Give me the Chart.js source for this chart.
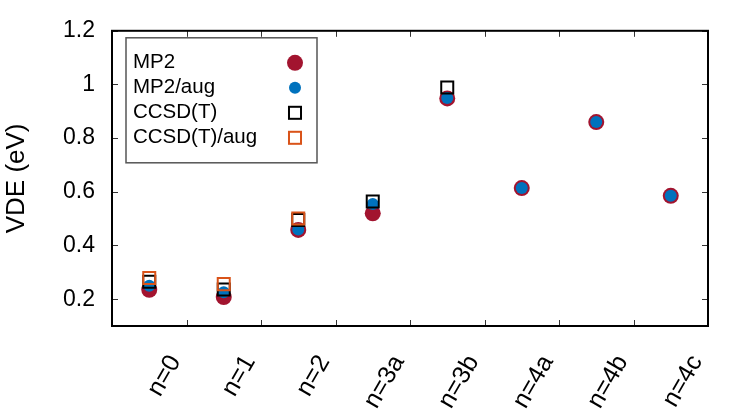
<!DOCTYPE html>
<html>
<head>
<meta charset="utf-8">
<script src="https://cdn.jsdelivr.net/npm/chart.js@4.4.0/dist/chart.umd.min.js"></script>
<style>
  html, body { margin: 0; padding: 0; background: #fff; }
</style>
</head>
<body>
<canvas id="vdeChart" width="750" height="419"></canvas>
<script>
const categories = ['n=0', 'n=1', 'n=2', 'n=3a', 'n=3b', 'n=4a', 'n=4b', 'n=4c'];
const mp2 = [0.235, 0.208, 0.458, 0.52, 0.948, 0.614, 0.86, 0.585];
const mp2Aug = [0.25, 0.226, 0.46, 0.555, 0.95, 0.614, 0.86, 0.585];
const ccsdt = [0.265, 0.236, 0.495, 0.564, 0.989, null, null, null];
const ccsdtAug = [0.279, 0.256, 0.501, null, null, null, null, null];
const yTicks = [0.2, 0.4, 0.6, 0.8, 1.0, 1.2];

const FONT = "'Liberation Sans', Arial, Helvetica, sans-serif";

const series = [
    { label: 'MP2', data: mp2, style: 'circle', radius: 8, color: '#A2142F', fill: true, order: 4 },
    { label: 'MP2/aug', data: mp2Aug, style: 'circle', radius: 6, color: '#0072BD', fill: true, order: 3 },
    { label: 'CCSD(T)', data: ccsdt, style: 'rect', radius: 8.5, color: '#000000', fill: false, order: 2 },
    { label: 'CCSD(T)/aug', data: ccsdtAug, style: 'rect', radius: 8.5, color: '#D95319', fill: false, order: 1 }
];

function drawMarker(ctx, s, x, y) {
    ctx.save();
    if (s.style === 'circle') {
        ctx.beginPath();
        ctx.arc(x, y, s.radius, 0, Math.PI * 2);
        ctx.fillStyle = s.color;
        ctx.fill();
    } else {
        const h = s.radius * Math.SQRT1_2;
        ctx.lineWidth = 2;
        ctx.strokeStyle = s.color;
        ctx.strokeRect(x - h, y - h, 2 * h, 2 * h);
    }
    ctx.restore();
}

// frame, inward ticks on all four sides and the boxed key
const framePlugin = {
    id: 'gnuplotFrame',
    afterDatasetsDraw(chart) {
        const { ctx, chartArea: a, scales } = chart;
        ctx.save();
        ctx.strokeStyle = '#333';
        ctx.lineWidth = 1;
        const tl = 6;
        yTicks.forEach(v => {
            const y = Math.round(scales.y.getPixelForValue(v)) + 0.5;
            ctx.beginPath();
            ctx.moveTo(a.left, y); ctx.lineTo(a.left + tl, y);
            ctx.moveTo(a.right, y); ctx.lineTo(a.right - tl, y);
            ctx.stroke();
        });
        for (let i = 1; i < categories.length; i++) {
            const x = Math.round((scales.x.getPixelForValue(i - 1) + scales.x.getPixelForValue(i)) / 2) + 0.5;
            ctx.beginPath();
            ctx.moveTo(x, a.bottom); ctx.lineTo(x, a.bottom - tl);
            ctx.moveTo(x, a.top); ctx.lineTo(x, a.top + tl);
            ctx.stroke();
        }
        ctx.strokeStyle = '#000';
        ctx.lineWidth = 2;
        ctx.strokeRect(a.left, a.top, a.right - a.left, a.bottom - a.top);

        // key
        const kx = a.left + 14, ky = a.top + 7, kw = 191, kh = 125;
        ctx.fillStyle = '#fff';
        ctx.fillRect(kx, ky, kw, kh);
        ctx.strokeStyle = '#555';
        ctx.lineWidth = 1.5;
        ctx.strokeRect(kx, ky, kw, kh);
        ctx.font = '20.5px ' + FONT;
        ctx.fillStyle = '#000';
        ctx.textBaseline = 'middle';
        series.forEach((s, i) => {
            const yy = ky + 25 + i * 25;
            ctx.fillText(s.label, kx + 7, yy);
            drawMarker(ctx, s, kx + 169, yy);
        });
        ctx.restore();
    }
};

new Chart(document.getElementById('vdeChart'), {
    type: 'line',
    data: {
        labels: categories,
        datasets: series.map(s => ({
            label: s.label,
            data: s.data,
            showLine: false,
            order: s.order,
            pointStyle: s.style,
            pointRadius: s.radius,
            pointHoverRadius: s.radius,
            pointBorderWidth: s.fill ? 0 : 2,
            pointBorderColor: s.color,
            pointBackgroundColor: s.fill ? s.color : 'rgba(0,0,0,0)',
            borderColor: s.color,
            backgroundColor: s.color
        }))
    },
    options: {
        responsive: false,
        animation: false,
        devicePixelRatio: 1,
        layout: { padding: { top: 26, right: 42, left: 0, bottom: 0 } },
        plugins: {
            legend: { display: false },
            tooltip: { enabled: false }
        },
        scales: {
            x: {
                type: 'category',
                offset: true,
                grid: { display: false, drawTicks: false, offset: true },
                border: { display: false },
                ticks: {
                    autoSkip: false,
                    minRotation: 60,
                    maxRotation: 60,
                    padding: 24,
                    labelOffset: 26,
                    color: '#000',
                    font: { family: FONT, size: 25 }
                },
                afterFit(scale) { scale.height = 93; }
            },
            y: {
                min: 0.1,
                max: 1.2,
                grid: { display: false, drawTicks: false },
                border: { display: false },
                afterBuildTicks(scale) {
                    scale.ticks = yTicks.map(v => ({ value: v }));
                },
                ticks: {
                    padding: 17,
                    color: '#000',
                    font: { family: FONT, size: 23 },
                    callback: v => String(Math.round(v * 10) / 10)
                },
                title: {
                    display: true,
                    text: 'VDE (eV)',
                    color: '#000',
                    font: { family: FONT, size: 26 },
                    padding: { top: 1, bottom: 0 }
                },
                afterFit(scale) { scale.width = 112; }
            }
        }
    },
    plugins: [framePlugin]
});
</script>
</body>
</html>
